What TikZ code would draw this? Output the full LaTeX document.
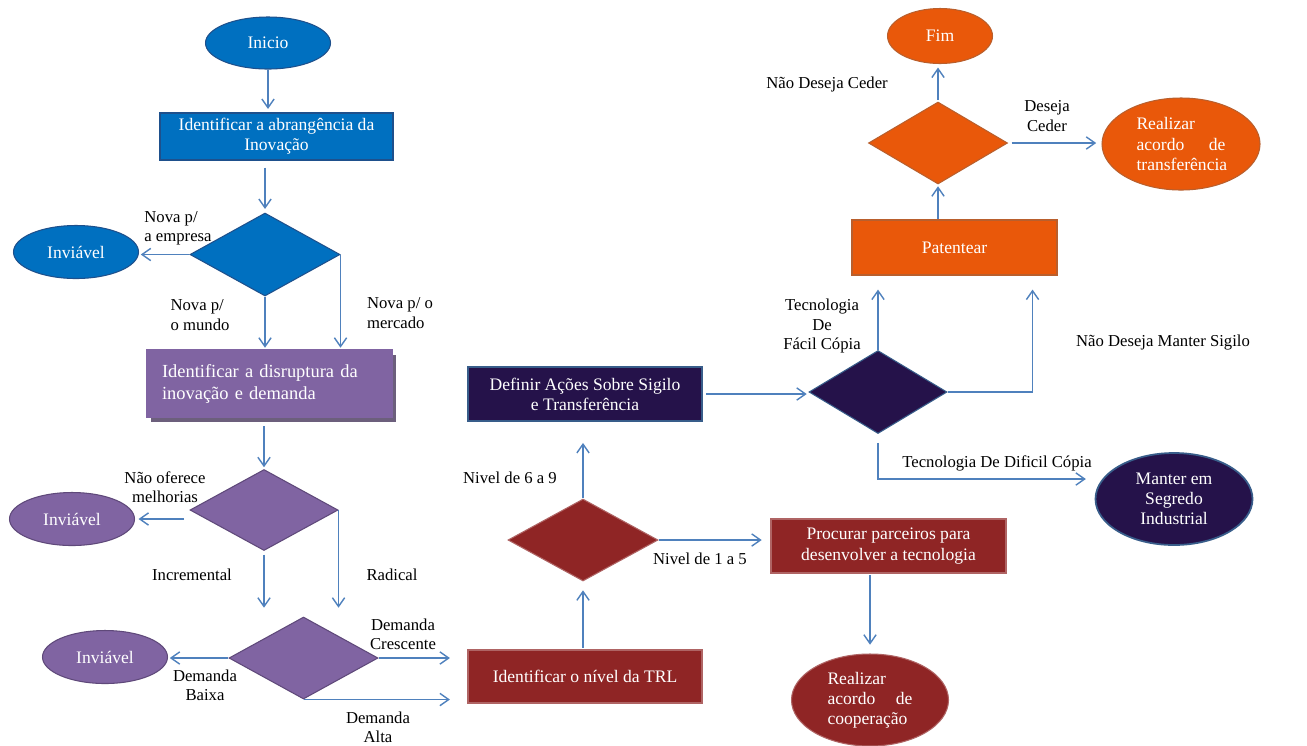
\documentclass[tikz,border=0pt]{standalone}
\usepackage{fontspec}
\setmainfont{Liberation Serif}
\usepackage{tikz}
\usetikzlibrary{arrows.meta,shapes.geometric,shadows,calc}
\definecolor{flowblue}{RGB}{0,112,192}
\definecolor{flowblueline}{RGB}{30,80,140}
\definecolor{flowpurple}{RGB}{128,100,162}
\definecolor{flowpurpleline}{RGB}{95,73,122}
\definecolor{flowred}{RGB}{143,37,37}
\definecolor{flowredline}{RGB}{175,100,100}
\definecolor{flownavy}{RGB}{37,18,74}
\definecolor{flownavyline}{RGB}{56,93,138}
\definecolor{floworange}{RGB}{233,88,10}
\definecolor{floworangeline}{RGB}{185,95,45}
\definecolor{flowarrow}{RGB}{79,129,189}

\tikzset{
  base/.style={text=white, font=\fontsize{10}{11.5}\selectfont, inner sep=0pt, line width=0.6pt},
  dims/.style 2 args={minimum width=#1*0.02cm, minimum height=#2*0.02cm},
  stepbox/.style={base, rectangle, align=center},
  endpoint/.style={base, ellipse, align=center},
  choice/.style={base, diamond},
  flow/.style={flowarrow, line width=0.8pt, -{Straight Barb[length=5pt,width=7pt]}},
  lbl/.style={font=\fontsize{9.5}{11}\selectfont, inner sep=0pt, align=center},
}

\begin{document}
\begin{tikzpicture}[x=0.02cm, y=-0.02cm]
\path[use as bounding box, fill=white] (0,0) rectangle (1307,745);

\begin{scope}
    \node[endpoint, fill=flowblue, draw=flowblueline, dims={125}{52}] (inicio) at (268,43) {Inicio};
    \node[stepbox, fill=flowblue, draw=flowblueline, dims={233}{47}] (abrang) at (276.5,136.5) {Identificar a abrangência da\\Inovação};
    \node[choice, fill=flowblue, draw=flowblueline, dims={150}{83}] (dec1) at (265,254.5) {};
    \node[stepbox, fill=flowpurple, draw=flowpurple, dims={245}{67}, text width=4.3cm, align=left,
          font=\fontsize{10.5}{12.5}\selectfont,
          drop shadow={shadow xshift=2pt, shadow yshift=-3pt, fill=flowpurpleline!60!gray, opacity=1}]
          (disrup) at (269.5,383.5) {Identificar a disruptura da\\inovação e demanda};
    \node[choice, fill=flowpurple, draw=flowpurpleline, dims={148}{81}] (dec2) at (264,510) {};
    \node[choice, fill=flowpurple, draw=flowpurpleline, dims={149}{82}] (dec3) at (303.5,658) {};
    \foreach \n/\x/\y/\f/\d in {inv1/76/252/flowblue/flowblueline, inv2/72/519/flowpurple/flowpurpleline, inv3/105/657/flowpurple/flowpurpleline}{
        \node[endpoint, fill=\f, draw=\d, dims={125}{53}] (\n) at (\x,\y) {Inviável};
    }
\end{scope}

\begin{scope}
    \node[stepbox, fill=flowred, draw=flowredline, dims={234}{53}] (trl) at (585,676.5) {Identificar o nível da TRL};
    \node[choice, fill=flowred, draw=flowredline, dims={150}{82}] (dec4) at (583,540) {};
    \node[stepbox, fill=flowred, draw=flowredline, dims={235}{54}] (parc) at (888.5,546) {Procurar parceiros para\\desenvolver a tecnologia};
    \node[endpoint, fill=flowred, draw=flowredline, dims={157}{92}, text width=1.7cm, align=left] (coop) at (870,700) {Realizar\\acordo\hfill de\\cooperação};
\end{scope}

\begin{scope}
    \node[stepbox, fill=flownavy, draw=flownavyline, line width=1pt, dims={234}{54}] (sigilo) at (585,394) {Definir Ações Sobre Sigilo\\e Transferência};
    \node[choice, fill=flownavy, draw=flownavyline, dims={138}{83}] (dec5) at (878,392) {};
    \node[endpoint, fill=flownavy, draw=flownavyline, line width=1pt, dims={157}{92}] (segredo) at (1174,499) {Manter em\\Segredo\\Industrial};
\end{scope}

\begin{scope}
    \node[stepbox, fill=floworange, draw=floworangeline, dims={205}{55}] (patent) at (954.5,247.5) {Patentear};
    \node[choice, fill=floworange, draw=floworangeline, dims={139}{82}] (dec6) at (938,143) {};
    \node[endpoint, fill=floworange, draw=floworangeline, dims={105}{55}] (fim) at (940,36) {Fim};
    \node[endpoint, fill=floworange, draw=floworangeline, dims={158}{92}, text width=1.78cm, align=left] (transf) at (1181,144) {Realizar\\acordo\hfill de\\transferência};
\end{scope}

\draw[flow, shorten >=2pt] (inicio.south) -- (inicio.south |- abrang.north);
\draw[flow, shorten <=4pt, shorten >=2pt] (abrang.south -| dec1.north) -- (dec1.north);
\draw[flow, shorten >=1pt] (dec1.west) -- (dec1.west -| inv1.east);
\draw[flow, shorten >=1pt] (dec1.south) -- (dec1.south |- disrup.north);
\draw[flow, shorten >=1pt] (dec1.east) -- (dec1.east |- disrup.north);
\draw[flow, shorten <=5pt, shorten >=1pt] (disrup.south -| dec2.north) -- (dec2.north);
\draw[flow, shorten <=3pt, shorten >=2pt] (dec2.west |- inv2.east) -- (inv2.east);
\draw[flow, shorten <=2pt, shorten >=5pt] (dec2.south) -- (dec2.south |- dec3.north);
\draw[flow, shorten >=5pt] (dec2.east) -- (dec2.east |- dec3.north);
\draw[flow, shorten >=1pt] (dec3.west) -- (dec3.west -| inv3.east);
\draw[flow, shorten >=10pt] (dec3.east) -- (dec3.east -| trl.west);
\draw[flow, shorten >=10pt] (dec3.south) -- (dec3.south -| trl.west);
\draw[flow, shorten <=1pt, shorten >=5pt] (trl.north -| dec4.south) -- (dec4.south);
\draw[flow, shorten >=12pt] (dec4.north) -- (dec4.north |- sigilo.south);
\draw[flow, shorten >=5pt] (dec4.east) -- (dec4.east -| parc.west);
\draw[flow, shorten <=1pt, shorten >=5pt] (parc.south -| coop.north) -- (coop.north);
\draw[flow, shorten <=2pt, shorten >=1pt] (sigilo.east) -- (sigilo.east -| dec5.west);
\draw[flow, shorten >=8pt] (dec5.north) -- (dec5.north |- patent.south);
\draw[flow, shorten >=8pt] (dec5.east) -| ([xshift=-0.5cm]patent.south east);
\draw[flow, shorten <=5pt, shorten >=5pt] (dec5.south) |- ([yshift=0.4cm]segredo.west);
\draw[flow, shorten >=1pt] (patent.north -| dec6.south) -- (dec6.south);
\draw[flow, shorten <=1pt, shorten >=2pt] (dec6.north) -- (dec6.north |- fim.south);
\draw[flow, shorten <=2pt, shorten >=3pt] (dec6.east) -- (dec6.east -| transf.west);

\node[lbl, align=left] (lempresa) at (178,228) {Nova p/\\a empresa};
\node[lbl, align=left] (lmundo) at (200,315) {Nova p/\\o mundo};
\node[lbl, align=left] (lmercado) at (400,313) {Nova p/ o\\mercado};
\node[lbl] (lmelhorias) at (165,487) {Não oferece\\melhorias};
\node[lbl] (lincremental) at (192,575) {Incremental};
\node[lbl] (lradical) at (392,575) {Radical};
\node[lbl] (lcrescente) at (403,634) {Demanda\\Crescente};
\node[lbl] (lbaixa) at (205,685) {Demanda\\Baixa};
\node[lbl] (lalta) at (378,727) {Demanda\\Alta};
\node[lbl] (lnivelalto) at (510,478) {Nivel de 6 a 9};
\node[lbl] (lnivelbaixo) at (700,559) {Nivel de 1 a 5};
\node[lbl] (lfacil) at (822,326) {Tecnologia\\De\\Fácil Cópia};
\node[lbl] (lmanter) at (1163,342) {Não Deseja Manter Sigilo};
\node[lbl] (ldificil) at (997,463) {Tecnologia De Dificil Cópia};
\node[lbl] (lnaoceder) at (827,84) {Não Deseja Ceder};
\node[lbl] (lceder) at (1047,116) {Deseja\\Ceder};
\end{tikzpicture}
\end{document}
